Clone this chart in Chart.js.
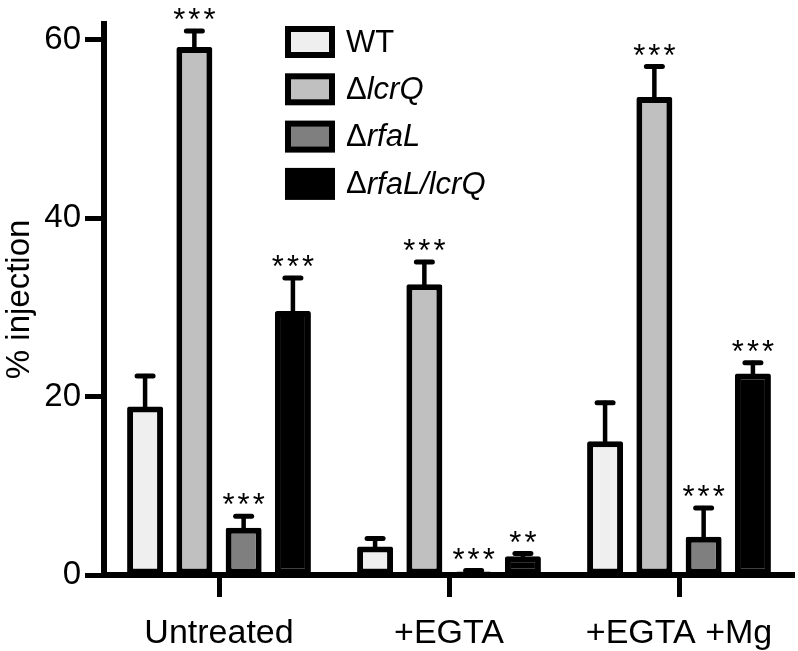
<!DOCTYPE html>
<html>
<head>
<meta charset="utf-8">
<script src="https://cdn.jsdelivr.net/npm/chart.js@4/dist/chart.umd.min.js"></script>
<style>
html, body { margin: 0; padding: 0; background: #fff; }
</style>
</head>
<body>
<canvas id="injection" width="798" height="651"></canvas>
<script>
// groups on the x axis and the four strains
var groups = ["Untreated", "+EGTA", "+EGTA +Mg"];
var strains = ["WT", "ΔlcrQ", "ΔrfaL", "ΔrfaL/lcrQ"];
var fills = ["#efefef", "#c0c0c0", "#7f7f7f", "#000000"];

// % injection per group, with the upper error (SEM)
var wt = [18.9, 3.2, 15.0];
var wtErr = [3.4, 0.9, 4.3];
var lcrQ = [59.2, 32.6, 53.6];
var lcrQErr = [1.8, 2.5, 3.4];
var rfaL = [5.3, 0.4, 4.3];
var rfaLErr = [1.3, 0.1, 3.2];
var rfaLlcrQ = [29.6, 2.1, 22.6];
var rfaLlcrQErr = [3.7, 0.3, 1.2];

// significance marks above each bar
var wtStars = ["", "", ""];
var lcrQStars = ["***", "***", "***"];
var rfaLStars = ["***", "***", "***"];
var rfaLlcrQStars = ["***", "**", "***"];

var yTicks = [0, 20, 40, 60];

var values = [wt, lcrQ, rfaL, rfaLlcrQ];
var errors = [wtErr, lcrQErr, rfaLErr, rfaLlcrQErr];
var stars = [wtStars, lcrQStars, rfaLStars, rfaLlcrQStars];

var FONT = '"Liberation Sans", Arial, Helvetica, sans-serif';

var errorBars = {
  id: 'errorBars',
  afterDatasetsDraw: function(chart) {
    var ctx = chart.ctx;
    var y = chart.scales.y;
    ctx.save();
    ctx.strokeStyle = '#000';
    ctx.fillStyle = '#000';
    ctx.lineCap = 'round';
    ctx.font = '31px ' + FONT;
    ctx.letterSpacing = '3px';
    ctx.textAlign = 'center';
    ctx.textBaseline = 'alphabetic';
    chart.data.datasets.forEach(function(ds, i) {
      var meta = chart.getDatasetMeta(i);
      meta.data.forEach(function(bar, j) {
        var top = y.getPixelForValue(ds.data[j] + errors[i][j]);
        ctx.lineWidth = 4.5;
        ctx.beginPath();
        ctx.moveTo(bar.x, bar.y);
        ctx.lineTo(bar.x, top);
        ctx.stroke();
        ctx.lineWidth = 5;
        ctx.beginPath();
        ctx.moveTo(bar.x - 8, top);
        ctx.lineTo(bar.x + 8, top);
        ctx.stroke();
        if (stars[i][j]) ctx.fillText(stars[i][j], bar.x + 1.5, top - 1);
      });
    });
    ctx.restore();
  }
};

var boxLegend = {
  id: 'boxLegend',
  afterDraw: function(chart) {
    var ctx = chart.ctx;
    var left = 285, top = 26, step = 47.3, w = 50, h = 32, bw = 6;
    ctx.save();
    ctx.textBaseline = 'middle';
    chart.data.datasets.forEach(function(ds, i) {
      var ty = top + i * step;
      ctx.fillStyle = '#000';
      ctx.fillRect(left, ty, w, h);
      ctx.fillStyle = ds.backgroundColor;
      ctx.fillRect(left + bw, ty + bw, w - 2 * bw, h - 2 * bw);
      var name = ds.label, x = left + w + 11, cy = ty + h / 2 + 1;
      ctx.fillStyle = '#000';
      if (name.charAt(0) === 'Δ') {
        ctx.font = '31px ' + FONT;
        ctx.fillText('Δ', x, cy);
        x += ctx.measureText('Δ').width;
        ctx.font = 'italic 31px ' + FONT;
        ctx.fillText(name.slice(1), x, cy);
      } else {
        ctx.font = '31px ' + FONT;
        ctx.fillText(name, x, cy);
      }
    });
    ctx.restore();
  }
};

var datasets = strains.map(function(s, i) {
  return {
    label: s,
    data: values[i],
    backgroundColor: fills[i],
    borderColor: '#000',
    borderWidth: 6,
    borderSkipped: false,
    borderRadius: 2,
    barPercentage: 0.73,
    categoryPercentage: 0.857
  };
});

new Chart(document.getElementById('injection'), {
  type: 'bar',
  data: { labels: groups, datasets: datasets },
  options: {
    responsive: false,
    animation: false,
    layout: { padding: { left: 0, right: 4, top: 21, bottom: 0 } },
    plugins: { legend: { display: false }, tooltip: { enabled: false } },
    scales: {
      x: {
        z: 1,
        grid: { offset: false, drawOnChartArea: false, tickLength: 22, tickWidth: 5, tickColor: '#000' },
        border: { display: true, color: '#000', width: 6 },
        ticks: { color: '#000', font: { family: FONT, size: 34 }, padding: 16, maxRotation: 0 },
        afterFit: function(s) { s.height = 76; }
      },
      y: {
        min: 0,
        max: 61.8,
        afterBuildTicks: function(s) { s.ticks = yTicks.map(function(v) { return { value: v }; }); },
        grid: { drawOnChartArea: false, tickLength: 19, tickWidth: 5, tickColor: '#000' },
        border: { display: true, color: '#000', width: 6 },
        ticks: { color: '#000', font: { family: FONT, size: 33 }, padding: 4 },
        title: { display: true, text: '% injection', color: '#000', font: { family: FONT, size: 33 }, padding: { top: 0, bottom: 0 } },
        afterFit: function(s) { s.width = 104; }
      }
    }
  },
  plugins: [errorBars, boxLegend]
});
</script>
</body>
</html>
